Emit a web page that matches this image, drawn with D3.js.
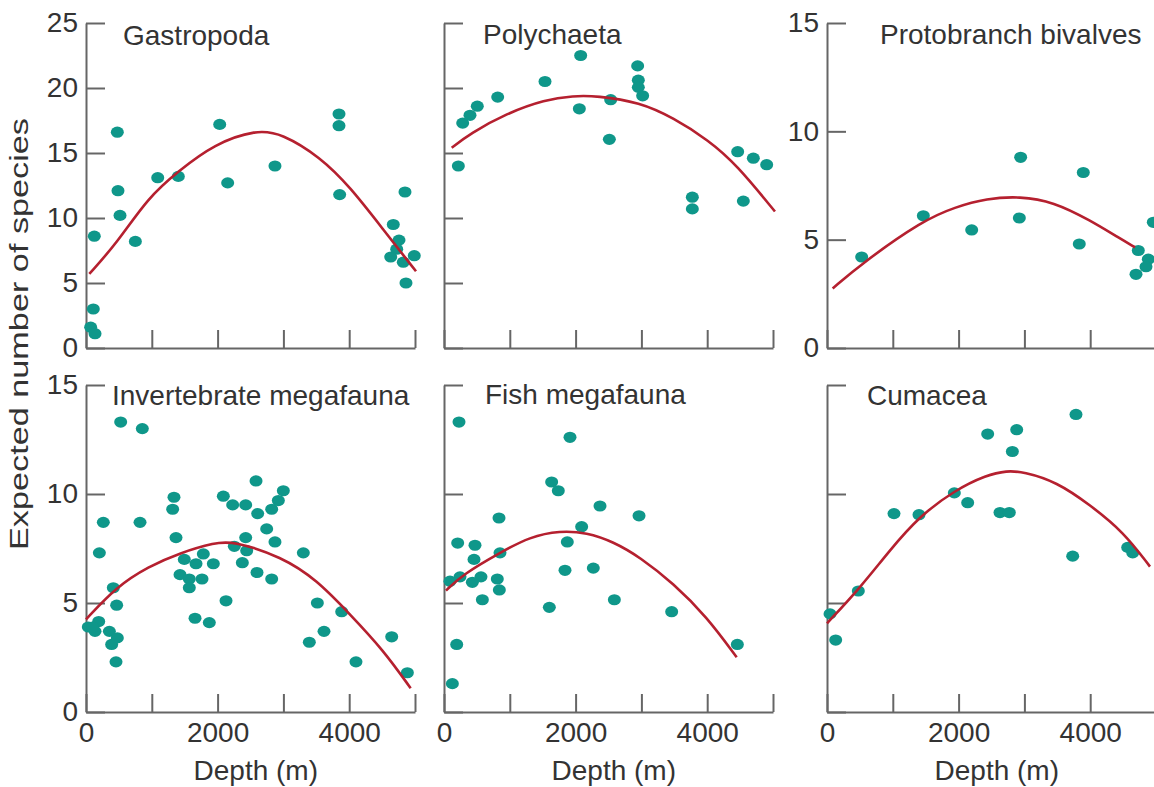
<!DOCTYPE html>
<html>
<head>
<meta charset="utf-8">
<script src="https://cdn.jsdelivr.net/npm/d3@7/dist/d3.min.js"></script>
<style>
  body { margin: 0; background: #fff; }
  svg text { font-family: "Liberation Sans", Arial, Helvetica, sans-serif; fill: #333; }
  .axis path, .axis line { stroke: #666; stroke-width: 2; }
  .axis text { font-size: 28px; }
</style>
</head>
<body>
<svg id="main_chart" width="1154" height="787"></svg>
<script>
// [depth (m), expected number of species]
const gastropoda_points = [[126, 8.6], [111, 3.0], [71, 1.6], [137, 1.1], [476, 16.6], [486, 12.1], [517, 10.2], [750, 8.2],
  [1090, 13.1], [1403, 13.2], [2032, 17.2], [2153, 12.7], [2872, 14.0], [3845, 18.0], [3845, 17.1], [3855, 11.8],
  [4670, 9.5], [4757, 8.3], [4722, 7.6], [4631, 7.0], [4848, 12.0], [4822, 6.6], [4989, 7.1], [4863, 5.0]];
const gastropoda_fit = [[50, 5.7], [466, 8.05], [947, 11.6], [1403, 13.6], [1950, 15.7], [2594, 16.8], [2974, 16.5],
  [3556, 14.7], [4012, 12.4], [4519, 9.1], [5015, 5.9]];

const polychaeta_points = [[218, 14.0], [284, 17.3], [395, 17.9], [506, 18.6], [816, 19.3], [1535, 20.5], [2077, 22.5],
  [2057, 18.4], [2533, 19.1], [2513, 16.05], [2943, 21.7], [2953, 20.6], [2953, 20.05], [3019, 19.4], [3774, 11.6],
  [3774, 10.7], [4463, 15.1], [4701, 14.6], [4904, 14.1], [4549, 11.3]];
const polychaeta_fit = [[117, 15.4], [395, 16.5], [953, 18.05], [1535, 19.1], [1965, 19.4], [2320, 19.4], [2979, 18.9],
  [3485, 17.7], [4017, 16.0], [4448, 14.1], [5030, 10.5]];

const protobranch_points = [[527, 4.2], [1464, 6.1], [2199, 5.45], [2943, 8.8], [2923, 6.0], [3895, 8.1], [3834, 4.8],
  [4731, 4.5], [4883, 4.1], [4848, 3.75], [4696, 3.4], [4959, 5.8]];
const protobranch_fit = [[86, 2.75], [527, 3.9], [1464, 5.9], [1945, 6.5], [2427, 6.9], [2933, 7.0], [3440, 6.75],
  [3997, 5.9], [4453, 5.05], [4681, 4.65]];

const invertebrate_points = [[527, 13.3], [856, 13.0], [263, 8.7], [203, 7.3], [415, 5.7], [466, 4.9], [193, 4.15],
  [35, 3.9], [137, 3.7], [101, 3.9], [355, 3.7], [390, 3.1], [476, 3.4], [456, 2.3], [821, 8.7], [1337, 9.85],
  [1317, 9.3], [1368, 8.0], [1494, 7.0], [1429, 6.3], [1570, 6.1], [1570, 5.7], [1672, 6.8], [1783, 7.25], [1763, 6.1],
  [1935, 6.8], [1657, 4.3], [1874, 4.1], [2087, 9.9], [2229, 9.5], [2427, 9.5], [2254, 7.6], [2427, 8.0], [2442, 7.4],
  [2376, 6.85], [2128, 5.1], [2584, 10.6], [2609, 9.1], [2599, 6.4], [2746, 8.4], [2822, 9.3], [2923, 9.7],
  [2999, 10.15], [2872, 7.8], [2822, 6.1], [3303, 7.3], [3516, 5.0], [3617, 3.7], [3394, 3.2], [3886, 4.6],
  [4103, 2.3], [4646, 3.45], [4884, 1.8]];
const invertebrate_fit = [[0, 4.25], [466, 5.75], [947, 6.67], [1429, 7.3], [1960, 7.77], [2239, 7.84], [2974, 7.12],
  [3506, 6.06], [3997, 4.53], [4519, 2.84], [4934, 1.09]];

const fish_points = [[228, 13.3], [1915, 12.6], [1636, 10.55], [1737, 10.15], [2371, 9.45], [2964, 9.0], [836, 8.9],
  [2092, 8.5], [208, 7.75], [471, 7.65], [1874, 7.8], [851, 7.3], [456, 7.0], [243, 6.2], [91, 6.0], [562, 6.2],
  [431, 5.95], [810, 6.1], [841, 5.6], [1839, 6.5], [2269, 6.6], [583, 5.15], [1601, 4.8], [2589, 5.15], [3460, 4.6],
  [193, 3.1], [127, 1.3], [4458, 3.1]];
const fish_fit = [[30, 5.57], [294, 6.33], [851, 7.31], [1307, 8.04], [1763, 8.32], [2168, 8.23], [2573, 7.81],
  [2979, 7.1], [3485, 5.9], [3992, 4.37], [4448, 2.51]];

const cumacea_points = [[46, 4.5], [132, 3.3], [476, 5.55], [1018, 9.1], [1398, 9.05], [1935, 10.05], [2138, 9.6],
  [2442, 12.75], [2883, 12.95], [2817, 11.95], [2629, 9.15], [2771, 9.15], [3784, 13.65], [3734, 7.15], [4570, 7.55],
  [4646, 7.3]];
const cumacea_fit = [[0, 4.07], [476, 5.6], [957, 7.43], [1398, 8.96], [1945, 10.18], [2427, 10.87], [2731, 11.07],
  [2984, 11.02], [3490, 10.56], [3997, 9.5], [4503, 8.27], [4909, 6.67]];

const titles = ['Gastropoda', 'Polychaeta', 'Protobranch bivalves', 'Invertebrate megafauna', 'Fish megafauna', 'Cumacea'];
const depth_ticks = [0, 1000, 2000, 3000, 4000, 5000];
const depth_labels = [0, 2000, 4000];
const y_ticks_25 = [0, 5, 10, 15, 20, 25];
const y_ticks_15 = [0, 5, 10, 15];

(function() {
  const svg = d3.select('#main_chart');
  const dot_color = '#0f978a';
  const fit_color = '#b5202f';

  const panels = [
    {title: titles[0], points: gastropoda_points, fit: gastropoda_fit, yTicks: y_ticks_25, left: 86, top: 23, bottom: 348, yLabels: true, xLabels: false, titleX: 37, titleY: 45},
    {title: titles[1], points: polychaeta_points, fit: polychaeta_fit, yTicks: y_ticks_25, left: 444, top: 23, bottom: 348, yLabels: false, xLabels: false, titleX: 39, titleY: 44},
    {title: titles[2], points: protobranch_points, fit: protobranch_fit, yTicks: y_ticks_15, left: 827, top: 23, bottom: 348, yLabels: true, xLabels: false, titleX: 53, titleY: 44},
    {title: titles[3], points: invertebrate_points, fit: invertebrate_fit, yTicks: y_ticks_15, left: 86, top: 385, bottom: 712, yLabels: true, xLabels: true, titleX: 26, titleY: 405},
    {title: titles[4], points: fish_points, fit: fish_fit, yTicks: y_ticks_15, left: 444, top: 385, bottom: 712, yLabels: false, xLabels: true, titleX: 41, titleY: 404},
    {title: titles[5], points: cumacea_points, fit: cumacea_fit, yTicks: y_ticks_15, left: 827, top: 385, bottom: 712, yLabels: false, xLabels: true, titleX: 40, titleY: 405}
  ];

  panels.forEach(function(p) {
    const xScale = d3.scaleLinear().domain([0, 5000]).range([p.left, p.left + 329]);
    const yScale = d3.scaleLinear().domain([0, d3.max(p.yTicks)]).range([p.bottom, p.top]);
    const g = svg.append('g');

    g.append('g').attr('class', 'axis').attr('transform', 'translate(' + p.left + ',0)')
      .call(d3.axisLeft(yScale).tickValues(p.yTicks).tickSizeInner(-19).tickSizeOuter(0).tickPadding(8)
        .tickFormat(function(d) { return p.yLabels ? d : ''; }));

    g.append('g').attr('class', 'axis').attr('transform', 'translate(0,' + p.bottom + ')')
      .call(d3.axisBottom(xScale).tickValues(depth_ticks).tickSizeInner(-18).tickSizeOuter(0).tickPadding(10)
        .tickFormat(function(d) { return p.xLabels && depth_labels.indexOf(d) >= 0 ? d : ''; }));

    g.selectAll('.tick text').attr('fill', '#333');
    g.selectAll('.axis').attr('font-family', null).attr('font-size', null);

    g.append('text').attr('x', p.left + p.titleX).attr('y', p.titleY)
      .attr('font-size', 28).text(p.title);

    if (p.xLabels) {
      g.append('text').attr('x', xScale(2580)).attr('y', p.bottom + 68)
        .attr('text-anchor', 'middle').attr('font-size', 28).text('Depth (m)');
    }

    g.selectAll('ellipse').data(p.points).enter().append('ellipse')
      .attr('cx', function(d) { return xScale(d[0]); })
      .attr('cy', function(d) { return yScale(d[1]); })
      .attr('rx', 6.5).attr('ry', 5.6)
      .attr('fill', dot_color);

    const line = d3.line()
      .x(function(d) { return xScale(d[0]); })
      .y(function(d) { return yScale(d[1]); })
      .curve(d3.curveBasis);
    g.append('path').datum(p.fit).attr('d', line)
      .attr('fill', 'none').attr('stroke', fit_color).attr('stroke-width', 2.6);
  });

  svg.append('text').attr('transform', 'translate(28,334) rotate(-90)')
    .attr('text-anchor', 'middle').attr('font-size', 26)
    .attr('textLength', 432).attr('lengthAdjust', 'spacingAndGlyphs')
    .text('Expected number of species');
}());
</script>
</body>
</html>
